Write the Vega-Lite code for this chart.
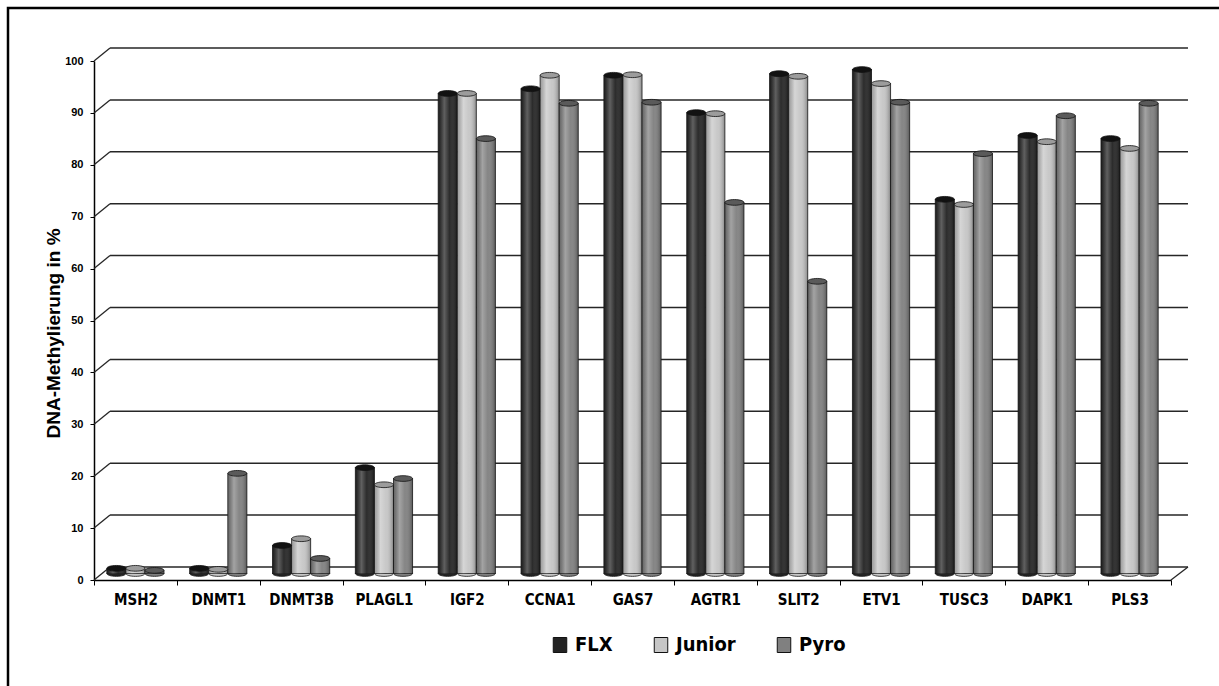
{
  "$schema": "https://vega.github.io/schema/vega-lite/v6.json",
  "autosize": {"type": "none"},
  "padding": {"left": 8, "top": 8, "right": -3, "bottom": -3},
  "width": 1214,
  "height": 681,
  "background": "white",
  "config": {
    "view": {"stroke": "#000000", "strokeWidth": 2.5, "fill": "white"}
  },
  "datasets": {
    "meth": [
      {"gene": "MSH2", "series": "FLX", "value": 1.0},
      {"gene": "MSH2", "series": "Junior", "value": 1.0},
      {"gene": "MSH2", "series": "Pyro", "value": 0.6},
      {"gene": "DNMT1", "series": "FLX", "value": 1.0},
      {"gene": "DNMT1", "series": "Junior", "value": 0.8},
      {"gene": "DNMT1", "series": "Pyro", "value": 19.3},
      {"gene": "DNMT3B", "series": "FLX", "value": 5.4},
      {"gene": "DNMT3B", "series": "Junior", "value": 6.7},
      {"gene": "DNMT3B", "series": "Pyro", "value": 2.9},
      {"gene": "PLAGL1", "series": "FLX", "value": 20.4},
      {"gene": "PLAGL1", "series": "Junior", "value": 17.1},
      {"gene": "PLAGL1", "series": "Pyro", "value": 18.3},
      {"gene": "IGF2", "series": "FLX", "value": 92.5},
      {"gene": "IGF2", "series": "Junior", "value": 92.5},
      {"gene": "IGF2", "series": "Pyro", "value": 83.8},
      {"gene": "CCNA1", "series": "FLX", "value": 93.4},
      {"gene": "CCNA1", "series": "Junior", "value": 96.0},
      {"gene": "CCNA1", "series": "Pyro", "value": 90.6},
      {"gene": "GAS7", "series": "FLX", "value": 96.0},
      {"gene": "GAS7", "series": "Junior", "value": 96.1},
      {"gene": "GAS7", "series": "Pyro", "value": 90.8},
      {"gene": "AGTR1", "series": "FLX", "value": 88.8},
      {"gene": "AGTR1", "series": "Junior", "value": 88.6},
      {"gene": "AGTR1", "series": "Pyro", "value": 71.5},
      {"gene": "SLIT2", "series": "FLX", "value": 96.3},
      {"gene": "SLIT2", "series": "Junior", "value": 95.8},
      {"gene": "SLIT2", "series": "Pyro", "value": 56.3},
      {"gene": "ETV1", "series": "FLX", "value": 97.1},
      {"gene": "ETV1", "series": "Junior", "value": 94.4},
      {"gene": "ETV1", "series": "Pyro", "value": 90.8},
      {"gene": "TUSC3", "series": "FLX", "value": 72.1},
      {"gene": "TUSC3", "series": "Junior", "value": 71.1},
      {"gene": "TUSC3", "series": "Pyro", "value": 80.9},
      {"gene": "DAPK1", "series": "FLX", "value": 84.4},
      {"gene": "DAPK1", "series": "Junior", "value": 83.2},
      {"gene": "DAPK1", "series": "Pyro", "value": 88.2},
      {"gene": "PLS3", "series": "FLX", "value": 83.8},
      {"gene": "PLS3", "series": "Junior", "value": 81.9},
      {"gene": "PLS3", "series": "Pyro", "value": 90.6}
    ],
    "grid": [
      {"gene": "MSH2", "gene2": "PLS3", "value": 0},
      {"gene": "MSH2", "gene2": "PLS3", "value": 10},
      {"gene": "MSH2", "gene2": "PLS3", "value": 20},
      {"gene": "MSH2", "gene2": "PLS3", "value": 30},
      {"gene": "MSH2", "gene2": "PLS3", "value": 40},
      {"gene": "MSH2", "gene2": "PLS3", "value": 50},
      {"gene": "MSH2", "gene2": "PLS3", "value": 60},
      {"gene": "MSH2", "gene2": "PLS3", "value": 70},
      {"gene": "MSH2", "gene2": "PLS3", "value": 80},
      {"gene": "MSH2", "gene2": "PLS3", "value": 90},
      {"gene": "MSH2", "gene2": "PLS3", "value": 100}
    ]
  },
  "encoding": {
    "x": {
      "field": "gene",
      "type": "nominal",
      "sort": null,
      "scale": {
        "domain": ["MSH2", "DNMT1", "DNMT3B", "PLAGL1", "IGF2", "CCNA1", "GAS7", "AGTR1", "SLIT2", "ETV1", "TUSC3", "DAPK1", "PLS3"],
        "range": [86, 1163],
        "paddingInner": 0,
        "paddingOuter": 0
      },
      "axis": {
        "title": null,
        "orient": "bottom",
        "offset": -109,
        "tickBand": "extent",
        "tickSize": 5,
        "tickColor": "#000000",
        "domainColor": "#000000",
        "domainWidth": 1.5,
        "labelAngle": 0,
        "labelFont": "DejaVu Sans Condensed, sans-serif",
        "labelFontSize": 15,
        "labelFontWeight": "bold",
        "labelColor": "#000000",
        "labelPadding": 7,
        "grid": false
      }
    },
    "y": {
      "field": "value",
      "type": "quantitative",
      "scale": {"domain": [0, 100], "range": [572, 53], "nice": false},
      "axis": {
        "title": "DNA-Methylierung in %",
        "orient": "left",
        "offset": -86,
        "values": [0, 10, 20, 30, 40, 50, 60, 70, 80, 90, 100],
        "tickSize": 4,
        "tickColor": "#000000",
        "domainColor": "#000000",
        "domainWidth": 1.5,
        "labelFont": "Liberation Sans",
        "labelFontSize": 11,
        "labelFontWeight": "bold",
        "labelColor": "#000000",
        "labelPadding": 7,
        "titleFont": "Liberation Sans",
        "titleFontSize": 19,
        "titleFontWeight": "bold",
        "titleColor": "#000000",
        "titleAngle": -90,
        "titleBaseline": "middle",
        "titleX": -41,
        "titleY": 325,
        "grid": false
      }
    }
  },
  "layer": [
    {
      "data": {"name": "grid"},
      "mark": {"type": "rule", "color": "#262626", "strokeWidth": 1.5, "xOffset": -25.4, "x2Offset": 58.4, "yOffset": -13},
      "encoding": {"x2": {"field": "gene2"}}
    },
    {
      "data": {"name": "grid"},
      "mark": {"type": "rule", "color": "#262626", "strokeWidth": 1.3, "xOffset": -41.4, "x2Offset": -25.4, "y2Offset": -13},
      "encoding": {"x2": {"field": "gene"}, "y2": {"field": "value"}}
    },
    {
      "data": {"values": [{"gene": "PLS3", "value": 0}]},
      "mark": {"type": "rule", "color": "#262626", "strokeWidth": 1.3, "xOffset": 41.4, "x2Offset": 58.4, "y2Offset": -13},
      "encoding": {"x2": {"field": "gene"}, "y2": {"field": "value"}}
    },
    {
      "data": {"name": "meth"},
      "mark": {"type": "point", "shape": "M-1,0A1,0.3,0,1,0,1,0A1,0.3,0,1,0,-1,0Z", "size": 361, "filled": true, "opacity": 1, "stroke": "#111111", "strokeWidth": 0.8, "xOffset": 8, "yOffset": -6.5},
      "encoding": {
        "xOffset": {"field": "series", "type": "nominal", "scale": {"paddingInner": 0, "paddingOuter": 0.672}},
        "y": {"datum": 0, "type": "quantitative"},
        "color": {"field": "series", "type": "nominal"}
      }
    },
    {
      "data": {"name": "meth"},
      "mark": {"type": "bar", "xOffset": 8, "yOffset": -6.5, "y2Offset": -6.5, "stroke": "#1a1a1a", "strokeWidth": 0.8},
      "encoding": {
        "xOffset": {"field": "series", "type": "nominal", "scale": {"paddingInner": 0, "paddingOuter": 0.672}},
        "color": {
          "field": "series",
          "type": "nominal",
          "scale": {"domain": ["FLX", "Junior", "Pyro"], "range": ["#232323", "#c6c6c6", "#808080"]},
          "legend": {
            "title": null,
            "orient": "none",
            "legendX": 542,
            "legendY": 627,
            "direction": "horizontal",
            "symbolType": "M-0.9,-1H0.9V1H-0.9Z",
            "symbolSize": 225,
            "symbolStrokeColor": "#000000",
            "symbolStrokeWidth": 1,
            "symbolOpacity": 1,
            "labelFont": "DejaVu Sans Condensed, sans-serif",
            "labelFontSize": 20,
            "labelFontWeight": "bold",
            "labelColor": "#000000",
            "labelOffset": 5,
            "columnPadding": 38,
            "padding": 0
          }
        }
      }
    },
    {
      "data": {"name": "meth"},
      "mark": {
        "type": "bar",
        "xOffset": 8,
        "yOffset": -6.5,
        "y2Offset": -6.5,
        "fill": {
          "gradient": "linear",
          "x1": 0, "y1": 0, "x2": 1, "y2": 0,
          "stops": [
            {"offset": 0, "color": "rgba(0,0,0,0.22)"},
            {"offset": 0.32, "color": "rgba(255,255,255,0.28)"},
            {"offset": 0.6, "color": "rgba(255,255,255,0.04)"},
            {"offset": 1, "color": "rgba(0,0,0,0.32)"}
          ]
        }
      },
      "encoding": {
        "xOffset": {"field": "series", "type": "nominal", "scale": {"paddingInner": 0, "paddingOuter": 0.672}}
      }
    },
    {
      "data": {"name": "meth"},
      "mark": {"type": "point", "shape": "M-1,0A1,0.3,0,1,0,1,0A1,0.3,0,1,0,-1,0Z", "size": 361, "filled": true, "opacity": 1, "stroke": "#111111", "strokeWidth": 0.8, "xOffset": 8, "yOffset": -6.5},
      "encoding": {
        "xOffset": {"field": "series", "type": "nominal", "scale": {"paddingInner": 0, "paddingOuter": 0.672}},
        "fill": {
          "field": "series",
          "type": "nominal",
          "scale": {"domain": ["FLX", "Junior", "Pyro"], "range": ["#121212", "#9c9c9c", "#5a5a5a"]},
          "legend": null
        }
      }
    }
  ]
}
